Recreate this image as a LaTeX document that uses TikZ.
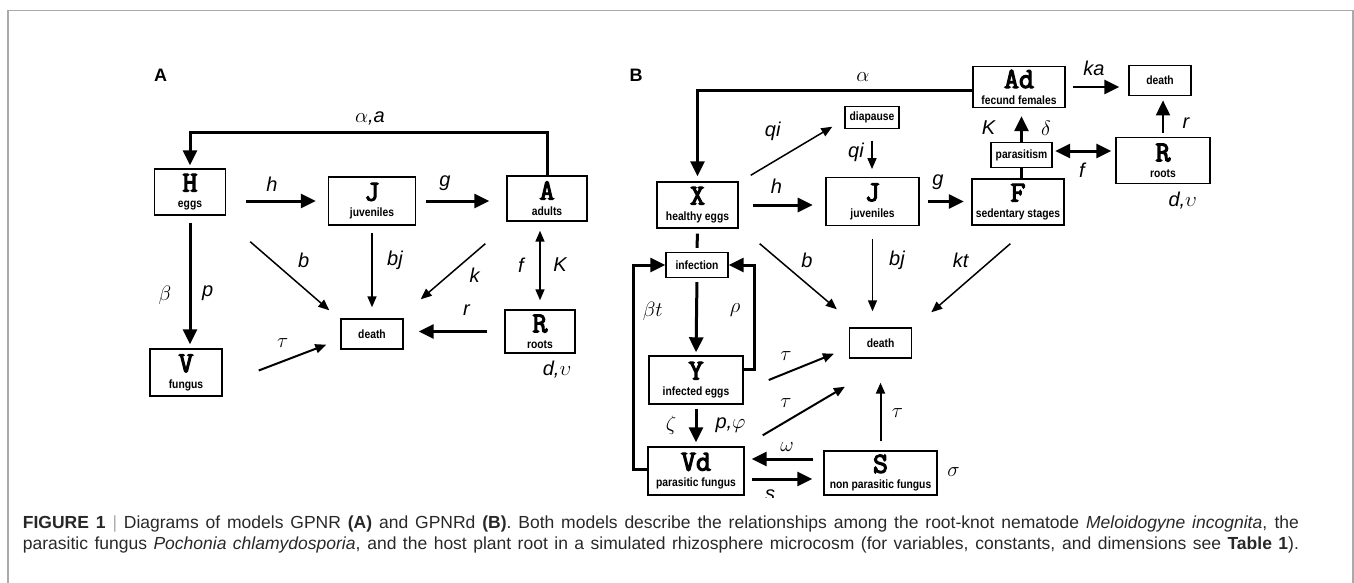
\documentclass[tikz,border=0pt]{standalone}
\usepackage{fontspec}
\setmainfont{Liberation Sans}
\newfontfamily\slabtt{Latin Modern Mono}[FakeBold=4]
\newfontfamily\narrowsf{Liberation Sans}[FakeStretch=0.86]
\usetikzlibrary{arrows.meta,calc}
\definecolor{capGray}{RGB}{40,40,40}
\definecolor{frameGray}{RGB}{170,170,170}
\newcommand\subtx{\fontsize{12}{12}\selectfont\narrowsf\bfseries}
\newcommand\labtx{\fontsize{20}{22}\selectfont\itshape}
\newcommand\boxtx[2]{{\fontsize{29}{29}\selectfont\slabtt #1}\\[4pt]#2}

\begin{document}
\begin{tikzpicture}[x=1pt,y=-1pt,
  box/.style={draw,line width=1.4pt,inner sep=0pt,align=center,font=\subtx},
  wh/.style 2 args={minimum width=#1pt,minimum height=#2pt},
  lb/.style={font=\labtx,inner sep=0pt},
  pnl/.style={font=\fontsize{18}{18}\selectfont\bfseries},
  big/.style={line width=3pt,-{Triangle[length=15pt,width=14pt]}},
  bigd/.style={line width=3pt,{Triangle[length=15pt,width=14pt]}-{Triangle[length=15pt,width=14pt]}},
  sml/.style={line width=1.5pt,-{Triangle[length=11pt,width=9pt]}},
  smld/.style={line width=1.5pt,{Triangle[length=11pt,width=9pt]}-{Triangle[length=11pt,width=9pt]}},
  thk/.style={line width=3pt}]
\useasboundingbox (0,0) rectangle (1354,583);
\draw[frameGray,line width=1.2pt] (8,583) |- (1353,10.5) -- (1353,583);
\begin{scope}
\clip (0,0) rectangle (1354,497);
% panel A
\node[pnl] (pA) at (160.7,75) {A};
\node[box,wh={71}{46}] (H) at (190,192) {\boxtx{H}{eggs}};
\node[box,wh={87}{48}] (J) at (372,201) {\boxtx{J}{juveniles}};
\node[box,wh={80}{45}] (adA) at (547,198.5) {\boxtx{A}{adults}};
\node[box,wh={72}{47}] (V) at (186,372.5) {\boxtx{V}{fungus}};
\node[box,wh={62}{30}] (deathA) at (372,334) {death};
\node[box,wh={70}{43}] (rA) at (540,331.5) {\boxtx{R}{roots}};
\coordinate (topA) at (370,133);
\draw[big,shorten >=3pt] (adA.north) |- (topA) -| (H.north);
\draw[big,shorten <=20pt,shorten >=12pt] (H.east|-J.west) -- (J.west);
\draw[big,shorten <=10pt,shorten >=17pt] (J.east) -- (J.east-|adA.west);
\draw[big,shorten <=7pt,shorten >=4pt] (H.south) -- (H.south|-V.north);
\draw[sml] ($(H.south east)+(24,26)$) -- ($(deathA.north west)+(-11,-8)$);
\draw[sml,shorten <=7pt,shorten >=11pt] (J.south) -- (deathA.north);
\draw[sml] ($(adA.south west)+(-21,22)$) -- ($(deathA.north east)+(17,-19)$);
\draw[smld,shorten <=9pt,shorten >=9pt] (rA.north|-adA.south) -- (rA.north);
\draw[big,shorten <=17pt,shorten >=15pt] (rA.west) -- (rA.west-|deathA.east);
\draw[sml,line width=2pt] ($(V.east)+(36,-2)$) -- ($(deathA.south west)+(-14,-5)$);
\foreach \n/\x/\y/\t in {aa/370/118/{$\alpha$,a}, ah/272/184/h, ag/445/183/g,
  abeta/165/295/$\beta$, ap/207.6/293/p, ab/303.6/260/b, abj/395/260/bj,
  ak/474.5/275/k, af/521/265/f, aK/560/265/K, ar/466.5/310/r,
  atau/282.6/343/$\tau$, adu/557/370/{d,$\upsilon$}}
  \node[lb] (\n) at (\x,\y) {\t};
% panel B
\node[pnl] (pB) at (636,75) {B};
\node[box,wh={81}{46}] (X) at (697.5,205) {\boxtx{X}{healthy eggs}};
\node[box,wh={93}{48}] (JB) at (872.5,201.5) {\boxtx{J}{juveniles}};
\node[box,wh={92}{46}] (F) at (1018,202) {\boxtx{F}{sedentary stages}};
\node[box,wh={92}{41}] (Ad) at (1019,87) {\boxtx{Ad}{fecund females}};
\node[box,wh={62}{30}] (deathT) at (1160,80.7) {death};
\node[box,wh={94}{46}] (RB) at (1163,160.5) {\boxtx{R}{roots}};
\node[box,wh={61}{25}] (para) at (1021.5,155) {parasitism};
\node[box,wh={54}{22}] (diap) at (872,117.5) {diapause};
\node[box,wh={62}{25}] (inf) at (697,265) {infection};
\node[box,wh={94}{48}] (Y) at (696,380) {\boxtx{Y}{infected eggs}};
\node[box,wh={96}{48}] (Vd) at (696,471) {\boxtx{Vd}{parasitic fungus}};
\node[box,wh={113}{44}] (S) at (880.5,473) {\boxtx{S}{non parasitic fungus}};
\node[box,wh={62}{30}] (deathB) at (880.6,343) {death};
\draw[big,shorten >=5pt] ([yshift=-4pt]Ad.west) -| (X.north);
\draw[big,line width=2.5pt,shorten <=7pt,shorten >=9pt] (Ad.east) -- (Ad.east-|deathT.west);
\draw[big,line width=2pt,shorten <=4pt,shorten >=4pt] (RB.north) -- (RB.north|-deathT.south);
\draw[bigd,shorten <=2.5pt,shorten >=4pt] ([yshift=4pt]para.east) -- ([yshift=4pt]para.east-|RB.west);
\draw[big,shorten >=8pt] (para.north) -- (para.north|-Ad.south);
\draw[thk] (para.south|-F.north) -- (para.south);
\draw[big,shorten <=8.6pt,shorten >=7.5pt] (JB.east) -- (JB.east-|F.west);
\draw[big,shorten <=14.5pt,shorten >=12.6pt] (X.east) -- (X.east-|JB.west);
\draw[sml] ($(X.north east)+(12,-6)$) -- ($(diap.south west)+(-12,-2.5)$);
\draw[sml,shorten <=11.5pt,shorten >=7.7pt] (diap.south) -- (diap.south|-JB.north);
\draw[thk,shorten <=5pt,shorten >=4pt] (X.south) -- (inf.north);
\draw[big,shorten <=4pt,shorten >=3pt] (inf.south) -- (Y.north);
\draw[big] ([yshift=11pt]Y.east) -- ++(11,0) |- (inf.east);
\draw[big] ([yshift=2pt]Vd.west) -- ++(-14,0) |- (inf.west);
\draw[big,shorten <=4pt,shorten >=4pt] (Y.south) -- (Vd.north);
\draw[big,shorten <=10.6pt,shorten >=7pt] ([yshift=14pt]S.west) -- ([yshift=14pt]S.west-|Vd.east);
\draw[big,shorten <=7pt,shorten >=11pt] ([yshift=-8pt]Vd.east) -- ([yshift=-8pt]Vd.east-|S.west);
\draw[sml] ($(X.south east)+(21,15)$) -- ($(deathB.north west)+(-12,-18)$);
\draw[sml,shorten <=12.7pt,shorten >=16pt] (JB.south) -- (JB.south|-deathB.north);
\draw[sml] ($(F.south west)+(39,18)$) -- ($(deathB.north east)+(19,-15)$);
\draw[sml,line width=2pt] ($(Y.east)+(25,0)$) -- ($(deathB.south west)+(-15,-5)$);
\draw[sml,line width=2pt] ($(Vd.north east)+(18,-11)$) -- ($(deathB.south west)+(-4,28)$);
\draw[sml,line width=2pt,shorten <=9pt,shorten >=24pt] (S.north) -- (S.north|-deathB.south);
\foreach \n/\x/\y/\t in {balpha/862.8/77/$\alpha$, bqi/772.7/131.7/qi, bqj/856/152/qi,
  bh/776.5/186.7/h, bg/938/181.7/g, bka/1094/68/ka, br/1186/123/r,
  bK/988.5/128/K, bdelta/1046/128/$\delta$, bf/1082/170/f, bdu/1182.7/200.7/{d,$\upsilon$},
  bb/807/260/b, bbj/897/260/bj, bkt/960.7/260/kt, bbt/652.8/311.7/$\beta t$,
  brho/735/310/$\rho$, bt1/786/356/$\tau$, bt2/786/402.7/$\tau$, bt3/897.4/413.3/$\tau$,
  bzeta/671/425/$\zeta$, bpp/730.5/425/{p,$\varphi$}, bomega/787/446.7/$\omega$,
  bsigma/953.5/471.7/$\sigma$, bs/770/495/s}
  \node[lb] (\n) at (\x,\y) {\t};
\end{scope}
% caption
\node[anchor=base west,inner sep=0pt,align=left,text=capGray,font=\fontsize{17.5}{21}\selectfont] (cap) at (22.7,549)
  {\makebox[1276pt][s]{\textbf{FIGURE 1} {\color{frameGray}|} Diagrams of models GPNR \textbf{(A)} and GPNRd \textbf{(B)}. Both models describe the relationships among the root-knot nematode \textit{Meloidogyne incognita}, the}\\
   \makebox[1276pt][s]{parasitic fungus \textit{Pochonia chlamydosporia}, and the host plant root in a simulated rhizosphere microcosm (for variables, constants, and dimensions see \textbf{Table 1}).}};
\end{tikzpicture}
\end{document}
